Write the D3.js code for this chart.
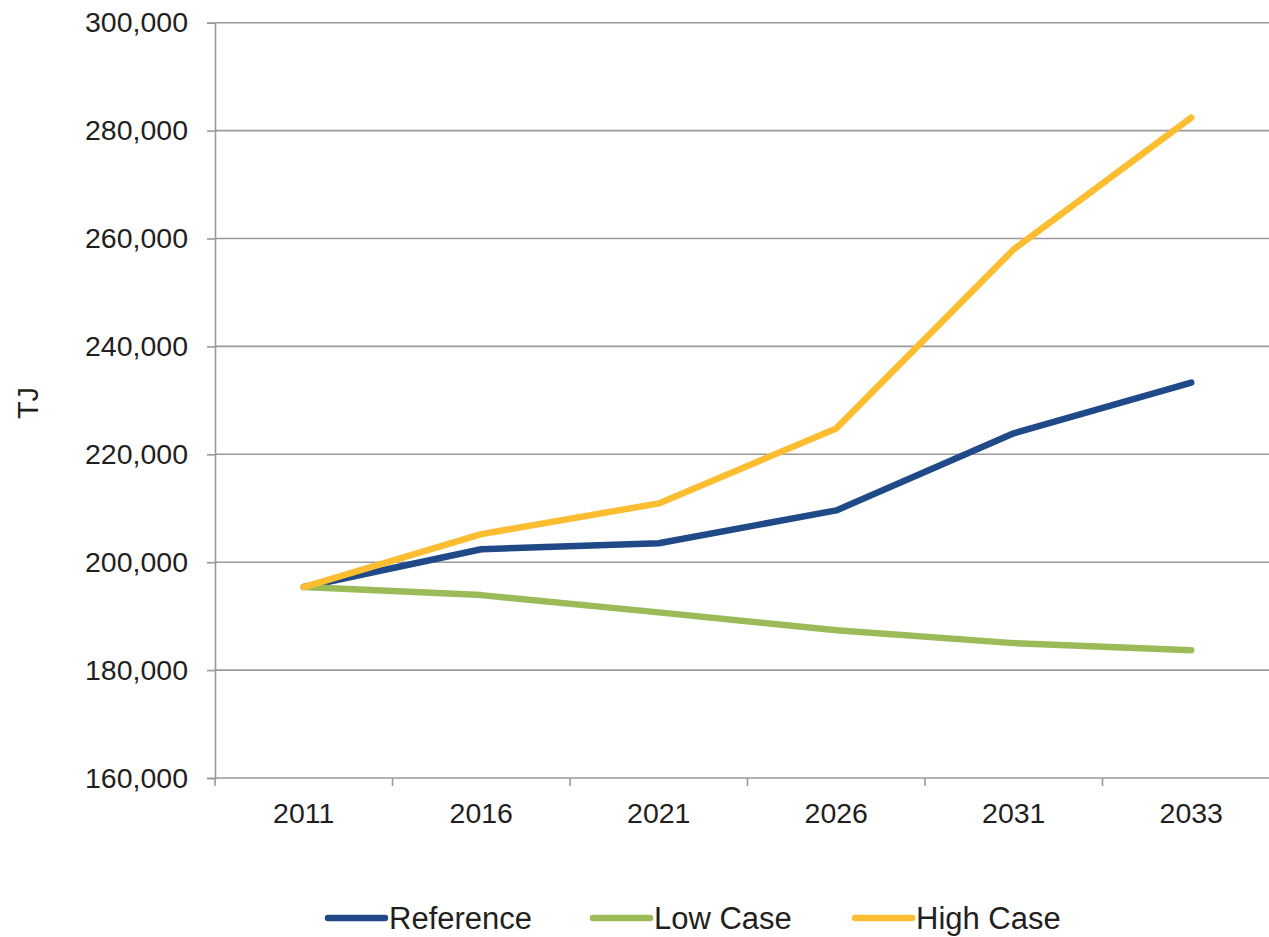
<!DOCTYPE html>
<html>
<head>
<meta charset="utf-8">
<script src="https://cdn.jsdelivr.net/npm/d3@7"></script>
<style>
  html, body { margin: 0; padding: 0; background: #fff; }
  svg { display: block; font-family: "Liberation Sans", Arial, sans-serif; }
</style>
</head>
<body>
<svg id="chart" width="1269" height="937"></svg>
<script>
// Energy demand scenarios, TJ
const years = ["2011", "2016", "2021", "2026", "2031", "2033"];
const referenceValues = [195400, 202400, 203500, 209600, 223900, 233300];
const lowCaseValues   = [195400, 193900, 190700, 187400, 185000, 183700];
const highCaseValues  = [195400, 205200, 210900, 224800, 258000, 282400];
const yTicks = [160000, 180000, 200000, 220000, 240000, 260000, 280000, 300000];
const seriesNames = ["Reference", "Low Case", "High Case"];
const seriesColors = ["#204a87", "#9bbb59", "#fdbd30"];

const series = [referenceValues, lowCaseValues, highCaseValues].map((vals, i) => ({
  name: seriesNames[i],
  color: seriesColors[i],
  values: vals.map((v, j) => ({ year: years[j], value: v }))
}));

const svg = d3.select("#chart");
const plotLeft = 215, plotRight = 1280, plotTop = 22.7, plotBottom = 778;

const x = d3.scaleBand().domain(years).range([plotLeft, plotRight]).padding(0);
const y = d3.scaleLinear().domain([160000, 300000]).range([plotBottom, plotTop]);
const fmt = d3.format(",");
const gridColor = "#9a9a9a";

// horizontal gridlines
svg.append("g")
  .selectAll("line")
  .data(yTicks.filter(t => t !== 160000))
  .join("line")
  .attr("x1", plotLeft).attr("x2", plotRight)
  .attr("y1", d => y(d)).attr("y2", d => y(d))
  .attr("stroke", gridColor).attr("stroke-width", 1.6);

// y axis
const yAxis = svg.append("g")
  .attr("transform", `translate(${plotLeft},0)`)
  .call(d3.axisLeft(y).tickValues(yTicks).tickFormat(fmt).tickSize(8).tickPadding(19));
yAxis.select(".domain").attr("stroke", gridColor).attr("stroke-width", 1.6);
yAxis.selectAll(".tick line").attr("stroke", gridColor).attr("stroke-width", 1.6);
yAxis.selectAll(".tick text")
  .attr("fill", "#231f20").attr("font-size", 28.5)
  .attr("font-family", "Liberation Sans, Arial, sans-serif");

// x axis line and category boundary ticks
const xAxis = svg.append("g").attr("transform", `translate(0,${plotBottom})`);
xAxis.append("line")
  .attr("x1", plotLeft).attr("x2", plotRight)
  .attr("stroke", gridColor).attr("stroke-width", 1.6);
const boundaries = years.map(d => x(d)).concat([plotRight]);
xAxis.selectAll("line.tk")
  .data(boundaries)
  .join("line").attr("class", "tk")
  .attr("x1", d => d).attr("x2", d => d)
  .attr("y1", 0).attr("y2", 8)
  .attr("stroke", gridColor).attr("stroke-width", 1.6);
xAxis.selectAll("text")
  .data(years)
  .join("text")
  .attr("x", d => x(d) + x.bandwidth() / 2)
  .attr("y", 45)
  .attr("text-anchor", "middle")
  .attr("fill", "#231f20").attr("font-size", 28.5)
  .text(d => d);

// y axis title
svg.append("text")
  .attr("transform", "translate(38,403) rotate(-90)")
  .attr("text-anchor", "middle")
  .attr("fill", "#231f20").attr("font-size", 29)
  .text("TJ");

// series lines
const line = d3.line()
  .x(d => x(d.year) + x.bandwidth() / 2)
  .y(d => y(d.value));

svg.append("g")
  .selectAll("path")
  .data(series)
  .join("path")
  .attr("d", d => line(d.values))
  .attr("fill", "none")
  .attr("stroke", d => d.color)
  .attr("stroke-width", 6.5)
  .attr("stroke-linecap", "round")
  .attr("stroke-linejoin", "round");

// legend
const legendX = [328, 593, 855];
const legend = svg.append("g")
  .selectAll("g")
  .data(series)
  .join("g")
  .attr("transform", (d, i) => `translate(${legendX[i]},918)`);
legend.append("line")
  .attr("x1", 0).attr("x2", 57)
  .attr("stroke", d => d.color)
  .attr("stroke-width", 6.5)
  .attr("stroke-linecap", "round");
legend.append("text")
  .attr("x", 61).attr("y", 11)
  .attr("fill", "#231f20").attr("font-size", 31)
  .text(d => d.name);
</script>
</body>
</html>
